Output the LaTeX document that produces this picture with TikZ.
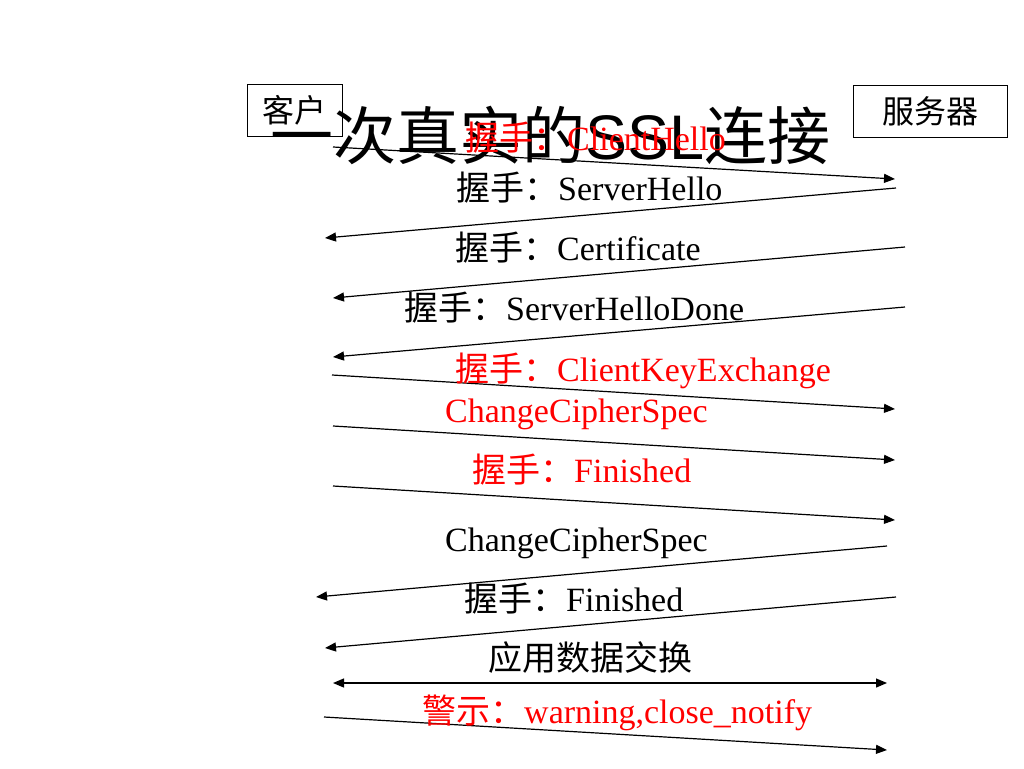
\documentclass[tikz,border=0pt]{standalone}
\usepackage{fontspec}
\setmainfont{Liberation Serif}
\newfontfamily\cjk{Noto Sans CJK SC}
\newfontfamily\sslfont{Liberation Sans}
\usetikzlibrary{arrows.meta}
\begin{document}
\begin{tikzpicture}[x=1pt,y=-1pt,
  lbl/.style={anchor=base west, inner sep=0pt, font=\fontsize{34}{38}\selectfont},
  redlbl/.style={lbl, text=red},
  msg/.style={line width=1.2pt, -{Triangle[length=11pt,width=9pt]}},
  both/.style={line width=1.2pt, {Triangle[length=11pt,width=9pt]}-{Triangle[length=11pt,width=9pt]}},
  box/.style={draw, line width=1pt, inner sep=0pt, font=\cjk\fontsize{32}{36}\selectfont}
]
\useasboundingbox (0,0) rectangle (1024,768);
\fill[white] (0,0) rectangle (1024,768);

% title
\node[anchor=base west, inner sep=0pt, font=\cjk\fontsize{63}{70}\selectfont] (title) at (270,159) {一次真实的{\sslfont SSL}连接};

% parties
\node[box, minimum width=95pt, minimum height=52pt] (client) at (294.5,110) {客户};
\node[box, minimum width=154pt, minimum height=52pt] (server) at (930,111) {服务器};

% message end points
\coordinate (a1) at (333,147);  \coordinate (b1) at (895,179);
\coordinate (a2) at (896,188);  \coordinate (b2) at (325,238);
\coordinate (a3) at (905,247);  \coordinate (b3) at (333,298);
\coordinate (a4) at (905,307);  \coordinate (b4) at (333,357);
\coordinate (a5) at (332,375);  \coordinate (b5) at (895,409);
\coordinate (a6) at (333,426);  \coordinate (b6) at (895,460);
\coordinate (a7) at (333,486);  \coordinate (b7) at (895,520);
\coordinate (a8) at (887,546);  \coordinate (b8) at (316,597);
\coordinate (a9) at (896,597);  \coordinate (b9) at (325,648);
\coordinate (a10) at (333,683); \coordinate (b10) at (887,683);
\coordinate (a11) at (324,717); \coordinate (b11) at (887,750);

% connectors
\draw[msg] (a1) -- (b1);
\draw[msg] (a2) -- (b2);
\draw[msg] (a3) -- (b3);
\draw[msg] (a4) -- (b4);
\draw[msg] (a5) -- (b5);
\draw[msg] (a6) -- (b6);
\draw[msg] (a7) -- (b7);
\draw[msg] (a8) -- (b8);
\draw[msg] (a9) -- (b9);
\draw[both] (a10) -- (b10);
\draw[msg] (a11) -- (b11);

% labels
\node[redlbl] (m1) at (465,150) {{\cjk 握手：}ClientHello};
\node[lbl] (m2) at (456,200) {{\cjk 握手：}ServerHello};
\node[lbl] (m3) at (455,260) {{\cjk 握手：}Certificate};
\node[lbl] (m4) at (404,320) {{\cjk 握手：}ServerHelloDone};
\node[redlbl] (m5) at (455,381) {{\cjk 握手：}ClientKeyExchange};
\node[redlbl] (m6) at (445,422) {ChangeCipherSpec};
\node[redlbl] (m7) at (472,482) {{\cjk 握手：}Finished};
\node[lbl] (m8) at (445,551) {ChangeCipherSpec};
\node[lbl] (m9) at (464,611) {{\cjk 握手：}Finished};
\node[lbl] (m10) at (488,670) {{\cjk 应用数据交换}};
\node[redlbl] (m11) at (422,723) {{\cjk 警示：}warning,close\_notify};
\end{tikzpicture}
\end{document}
